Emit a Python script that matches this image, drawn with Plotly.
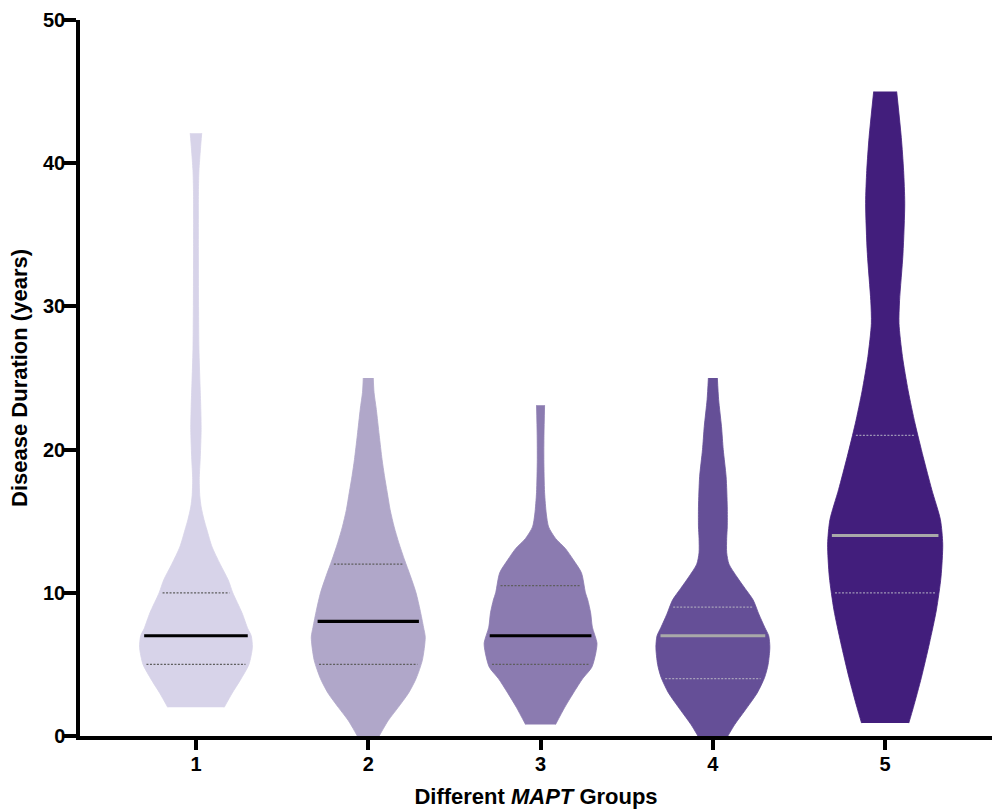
import numpy as np
import plotly.graph_objects as go

# ---- data -------------------------------------------------------------
groups = ["1", "2", "3", "4", "5"]
positions = [1, 2, 3, 4, 5]

medians = [7, 8, 7, 7, 14]
q1_vals = [5, 5, 5, 4, 10]
q3_vals = [10, 12, 10.5, 9, 21]

# kernel density profiles (relative density at each duration level)
g1_y = [2.0, 3.0, 3.9, 5.0, 6.2, 7.0, 7.5, 8.6, 10.0, 10.9, 12.0, 13.2, 14.4, 15.1, 16.0, 16.8,
        17.9, 19.5, 21.4, 23.0, 24.6, 27.0, 30.0, 34.0, 38.0, 39.5, 41.0, 42.1]
g1_d = [0.49, 0.63, 0.77, 0.92, 0.98, 0.96, 0.90, 0.80, 0.64, 0.56, 0.42, 0.28, 0.19, 0.14, 0.09, 0.066,
        0.057, 0.075, 0.09, 0.083, 0.07, 0.052, 0.045, 0.042, 0.043, 0.052, 0.078, 0.10]

g2_y = [0.0, 0.5, 1.1, 2.0, 3.0, 4.0, 5.3, 6.9, 7.6, 8.8, 10.0, 11.2, 12.3, 13.5, 14.6, 15.8,
        17.0, 18.2, 19.3, 21.0, 22.8, 24.0, 25.0]
g2_d = [0.19, 0.26, 0.35, 0.52, 0.70, 0.83, 0.94, 0.99, 0.96, 0.90, 0.83, 0.73, 0.63, 0.53, 0.45, 0.38,
        0.33, 0.28, 0.24, 0.19, 0.14, 0.10, 0.087]

g3_y = [0.8, 2.0, 3.0, 4.0, 4.8, 5.8, 6.5, 7.6, 8.6, 9.5, 10.0, 11.4, 12.3, 13.1, 13.8, 14.6,
        15.5, 17.0, 19.3, 21.0, 23.1]
g3_d = [0.26, 0.42, 0.57, 0.73, 0.89, 0.96, 0.98, 0.90, 0.87, 0.82, 0.78, 0.71, 0.57, 0.43, 0.26, 0.14,
        0.10, 0.07, 0.057, 0.059, 0.07]

g4_y = [0.0, 0.8, 1.8, 3.0, 4.1, 5.0, 6.2, 7.0, 7.6, 8.5, 9.5, 10.3, 11.1, 12.0, 12.8, 13.8,
        14.6, 16.0, 18.1, 20.0, 21.6, 23.5, 25.0]
g4_d = [0.26, 0.38, 0.56, 0.77, 0.90, 0.96, 0.99, 0.97, 0.90, 0.80, 0.70, 0.56, 0.42, 0.28, 0.24, 0.24,
        0.25, 0.25, 0.23, 0.18, 0.15, 0.10, 0.078]

g5_y = [0.9, 2.0, 4.1, 6.5, 8.8, 11.1, 13.4, 15.1, 17.2, 19.5, 21.8, 24.1, 26.5, 28.8, 30.4, 33.7,
        37.2, 39.5, 41.8, 45.0]
g5_d = [0.41, 0.49, 0.63, 0.77, 0.89, 0.97, 1.0, 0.96, 0.81, 0.66, 0.52, 0.40, 0.30, 0.24, 0.25, 0.31,
        0.34, 0.32, 0.28, 0.20]

profiles = [(g1_y, g1_d), (g2_y, g2_d), (g3_y, g3_d), (g4_y, g4_d), (g5_y, g5_d)]

# ---- styling ----------------------------------------------------------
fill_colors = ["#d7d3e9", "#b0a7c9", "#8b7bb0", "#654f97", "#421e7c"]
median_colors = ["#000000", "#000000", "#000000", "#a9a9a9", "#a9a9a9"]
quart_colors = ["#5e5e5e", "#5e5e5e", "#5e5e5e", "#a8a2bb", "#9e96b6"]

HALF_WIDTH = 0.334   # half width of a violin at peak density (x units)
INSET = 0.02         # summary lines stop a little inside the outline
FONT = "Liberation Sans, Arial, Helvetica, sans-serif"

fig = go.Figure()

# each violin: left edge curve, then right edge curve filled across to it
for pos, (py, pd_), col in zip(positions, profiles, fill_colors):
    py = np.asarray(py, float)
    hw = np.asarray(pd_, float) * HALF_WIDTH
    edge = dict(color=col, width=0.8, shape="spline", smoothing=0.7)
    fig.add_trace(go.Scatter(x=pos - hw, y=py, mode="lines", line=edge,
                             hoverinfo="skip", showlegend=False))
    fig.add_trace(go.Scatter(x=pos + hw, y=py, mode="lines", line=edge,
                             fill="tonextx", fillcolor=col,
                             hoverinfo="skip", showlegend=False))

for i, (pos, (py, pd_)) in enumerate(zip(positions, profiles)):
    for val, color, width, dash in [
        (q1_vals[i], quart_colors[i], 1.2, "2px,1.5px"),
        (q3_vals[i], quart_colors[i], 1.2, "2px,1.5px"),
        (medians[i], median_colors[i], 3.2, "solid"),
    ]:
        half = np.interp(val, py, pd_) * HALF_WIDTH - INSET
        fig.add_trace(go.Scatter(
            x=[pos - half, pos + half], y=[val, val], mode="lines",
            line=dict(color=color, width=width, dash=dash),
            hoverinfo="skip", showlegend=False,
        ))

fig.update_layout(
    width=992, height=809,
    margin=dict(l=80, r=0, t=20, b=73),
    paper_bgcolor="white", plot_bgcolor="white",
    font=dict(family=FONT, color="black"),
    showlegend=False,
)

fig.update_xaxes(
    range=[0.327, 5.62], tickvals=positions, ticktext=groups,
    showline=True, linecolor="black", linewidth=3.5,
    ticks="outside", ticklen=10, tickwidth=3.5, tickcolor="black",
    tickfont=dict(size=20, family=FONT, weight="bold"),
    ticklabelstandoff=-3,
    showgrid=False, zeroline=False,
    title=dict(text="<b>Different <i>MAPT</i> Groups</b>", font=dict(size=22, family=FONT), standoff=18),
)
fig.update_yaxes(
    range=[0, 50], tickvals=[0, 10, 20, 30, 40, 50],
    showline=True, linecolor="black", linewidth=3.5,
    ticks="outside", ticklen=13, tickwidth=3.5, tickcolor="black",
    tickfont=dict(size=20, family=FONT, weight="bold"),
    ticklabelstandoff=-6,
    showgrid=False, zeroline=False,
    title=dict(text="<b>Disease Duration (years)</b>", font=dict(size=22, family=FONT), standoff=10),
)

fig.write_html("out.html")
